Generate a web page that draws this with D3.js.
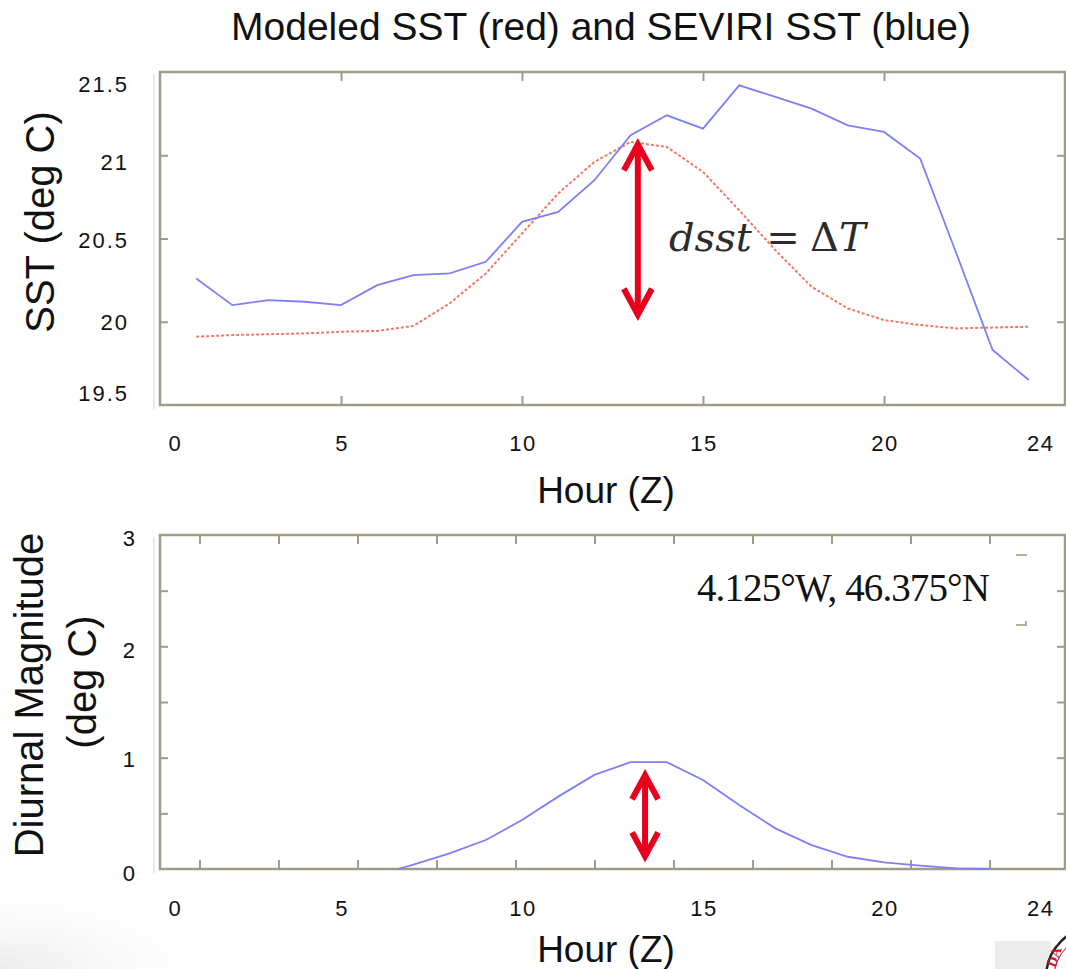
<!DOCTYPE html>
<html><head><meta charset="utf-8">
<script src="https://cdn.jsdelivr.net/npm/d3@7/dist/d3.min.js"></script>
<style>body{margin:0;background:#fff}svg{display:block}</style>
</head><body>
<svg id="c" width="1066" height="969"></svg>
<script>
// ---------- data ----------
const hours = [1,2,3,4,5,6,7,8,9,10,11,12,13,14,15,16,17,18,19,20,21,22,23,24];
const seviriSST = [20.26,20.10,20.13,20.12,20.10,20.22,20.28,20.29,20.36,20.60,20.66,20.85,21.12,21.24,21.16,21.42,21.35,21.28,21.18,21.14,20.98,20.41,19.83,19.65];
const modelSST  = [19.91,19.92,19.925,19.93,19.94,19.945,19.975,20.11,20.29,20.53,20.77,20.96,21.08,21.05,20.90,20.67,20.43,20.21,20.08,20.01,19.98,19.96,19.965,19.97];
const diurnalHours = [6.57,7,8,9,10,11,12,13,14,15,16,17,18,19,20,21,22,22.9];
const diurnalMag   = [0,0.04,0.14,0.26,0.44,0.65,0.845,0.96,0.96,0.80,0.575,0.365,0.215,0.11,0.06,0.03,0.006,0];
const xTickLabels = ["0","5","10","15","20","24"];
const xTickLabelAt = [0.4,5,10,15,20,24.3];
const topFrameXTicks = [5,10,15,20];
const topYTicks = [20,20.5,21];
const topYLabels = ["21.5","21","20.5","20","19.5"];
const topYLabelAt = [21.43,20.96,20.49,20.0,19.57];
const botYTicks = [0.5,1,1.5,2,2.5];
const botYLabels = ["3","2","1","0"];
const botYLabelAt = [2.97,1.97,0.99,-0.04];
const botFrameXTicks = [1,3,5,7,9,11,13,15,17,19,21];
const arrowTop = {hour:13.2, from:21.077, to:20.03};
const arrowBot = {hour:13.4, from:0.86, to:0.096};

// ---------- scales ----------
const svg = d3.select("#c");
const x = d3.scaleLinear().domain([0,25]).range([160,1065]);
const yTop = d3.scaleLinear().domain([19.5,21.5]).range([405,72]);
const yBot = d3.scaleLinear().domain([0,3]).range([869,535]);
const xBotFrame = d3.scaleLinear().domain([0,23]).range([160,1068.5]);

const frameCol = "#a19c87";
const sans = "'Liberation Sans', Arial, sans-serif";
const serif = "'Liberation Serif', 'Times New Roman', serif";

// slide shading bottom-left
const defs = svg.append("defs");
const rg = defs.append("radialGradient").attr("id","sh").attr("cx","0").attr("cy","1").attr("r","1");
rg.append("stop").attr("offset","0").attr("stop-color","#ececec");
rg.append("stop").attr("offset","1").attr("stop-color","#ffffff").attr("stop-opacity",0);
svg.append("rect").attr("x",0).attr("y",869).attr("width",260).attr("height",100).attr("fill","url(#sh)");

// title
svg.append("text").attr("x",601).attr("y",40).attr("text-anchor","middle")
  .attr("font-family",sans).attr("font-size",39).attr("fill","#111")
  .text("Modeled SST (red) and SEVIRI SST (blue)");

function frame(yScale, topTicks, yTicks, xtScale, len){
  const g = svg.append("g");
  const [y0,y1] = yScale.range();
  const [xa,xb] = x.range();
  g.append("line").attr("x1",xa-6).attr("x2",xa-6).attr("y1",y1+2).attr("y2",y0+4)
    .attr("stroke","#e6e3d8").attr("stroke-width",1.5);
  const ax1 = d3.axisBottom(xtScale).tickValues(topTicks).tickSize(len).tickFormat("");
  const ax2 = d3.axisTop(xtScale).tickValues(topTicks).tickSize(len).tickFormat("");
  const ay1 = d3.axisRight(yScale).tickValues(yTicks).tickSize(len-1).tickFormat("");
  const ay2 = d3.axisLeft(yScale).tickValues(yTicks).tickSize(len-1).tickFormat("");
  [[ax1,`translate(0,${y1})`],[ax2,`translate(0,${y0})`],[ay1,`translate(${xa},0)`],[ay2,`translate(${xb},0)`]].forEach(([a,t])=>{
    const s = g.append("g").attr("transform",t).call(a);
    s.select(".domain").remove();
    s.selectAll("line").attr("stroke",frameCol).attr("stroke-width",2);
  });
  g.append("rect").attr("x",xa).attr("y",y1).attr("width",xb-xa).attr("height",y0-y1)
    .attr("fill","none").attr("stroke",frameCol).attr("stroke-width",2.5);
}
frame(yTop, topFrameXTicks, topYTicks, x, 9);
frame(yBot, botFrameXTicks, botYTicks, xBotFrame, 9);

// tick labels
function xLabels(yPos){
  svg.append("g").selectAll("text").data(xTickLabels).join("text")
    .attr("x",(d,i)=>x(xTickLabelAt[i])+1).attr("y",yPos).attr("text-anchor","middle")
    .attr("font-family",sans).attr("font-size",22).attr("letter-spacing",1.5).attr("fill","#111")
    .text(d=>d);
}
xLabels(451); xLabels(916);
svg.append("g").selectAll("text").data(topYLabels).join("text")
  .attr("x",129).attr("y",(d,i)=>yTop(topYLabelAt[i])).attr("dy","0.36em").attr("text-anchor","end")
  .attr("font-family",sans).attr("font-size",22).attr("letter-spacing",2).attr("fill","#111").text(d=>d);
svg.append("g").selectAll("text").data(botYLabels).join("text")
  .attr("x",135).attr("y",(d,i)=>yBot(botYLabelAt[i])).attr("dy","0.36em").attr("text-anchor","end")
  .attr("font-family",sans).attr("font-size",22).attr("fill","#111").text(d=>d);

// axis titles
svg.append("text").attr("x",606).attr("y",503).attr("text-anchor","middle")
  .attr("font-family",sans).attr("font-size",37).attr("fill","#111").text("Hour (Z)");
svg.append("text").attr("x",606).attr("y",962).attr("text-anchor","middle")
  .attr("font-family",sans).attr("font-size",37).attr("fill","#111").text("Hour (Z)");
svg.append("text").attr("transform","translate(54,222) rotate(-90)").attr("text-anchor","middle")
  .attr("font-family",sans).attr("font-size",40).attr("fill","#111").text("SST (deg C)");
svg.append("text").attr("transform","translate(43,695) rotate(-90)").attr("text-anchor","middle")
  .attr("font-family",sans).attr("font-size",40).attr("fill","#111").text("Diurnal Magnitude");
svg.append("text").attr("transform","translate(96,682) rotate(-90)").attr("text-anchor","middle")
  .attr("font-family",sans).attr("font-size",40).attr("fill","#111").text("(deg C)");

// lines
const lineTop = (vals)=>d3.line().x((d,i)=>x(hours[i])).y(d=>yTop(d))(vals);
svg.append("path").attr("d",lineTop(modelSST)).attr("fill","none")
  .attr("stroke","#ef7a66").attr("stroke-width",2).attr("stroke-dasharray","3,2");
svg.append("path").attr("d",lineTop(seviriSST)).attr("fill","none")
  .attr("stroke","#7f7ff5").attr("stroke-width",1.8);
svg.append("path").attr("d",d3.line().x((d,i)=>x(diurnalHours[i])).y(d=>yBot(d))(diurnalMag))
  .attr("fill","none").attr("stroke","#7f7ff5").attr("stroke-width",1.8);

// arrows
function dblArrow(xp, yA, yB, hw, hl, w){
  const g = svg.append("g").attr("stroke","#e8001c").attr("stroke-width",w).attr("fill","none")
    .attr("stroke-linecap","butt").attr("stroke-linejoin","miter");
  g.append("line").attr("x1",xp).attr("x2",xp).attr("y1",yA+3).attr("y2",yB-3);
  g.append("polyline").attr("points",`${xp-hw},${yA+hl} ${xp},${yA+2} ${xp+hw},${yA+hl}`);
  g.append("polyline").attr("points",`${xp-hw},${yB-hl} ${xp},${yB-2} ${xp+hw},${yB-hl}`);
}
dblArrow(x(arrowTop.hour), yTop(arrowTop.from), yTop(arrowTop.to), 14, 28, 6);
dblArrow(x(arrowBot.hour), yBot(arrowBot.from), yBot(arrowBot.to), 13, 26, 6);

// annotations
const ann = svg.append("g").attr("font-family","'DejaVu Serif', serif").attr("fill","#2b2b2b").attr("font-size",40);
ann.append("text").attr("x",669).attr("y",251).attr("font-style","italic").text("dsst");
ann.append("text").attr("x",783).attr("y",251).attr("text-anchor","middle").text("=");
const dt = ann.append("text").attr("x",810).attr("y",251);
dt.append("tspan").text("Δ");
dt.append("tspan").attr("font-style","italic").text("T");
svg.append("text").attr("x",697).attr("y",601).attr("font-family",serif).attr("font-size",39)
  .attr("fill","#111").attr("textLength",293).text("4.125°W, 46.375°N");
// small bracket marks
svg.append("path").attr("d","M1016,555 H1027 M1016,625 H1026 V621").attr("stroke","#b5b09c").attr("stroke-width",2).attr("fill","none");

// bottom-right logo fragment
svg.append("rect").attr("x",995).attr("y",941).attr("width",56).attr("height",28).attr("fill","#ececec");
svg.append("circle").attr("cx",1098).attr("cy",978).attr("r",52).attr("fill","#fff").attr("stroke","#222").attr("stroke-width",2.5);
svg.append("circle").attr("cx",1098).attr("cy",978).attr("r",44).attr("fill","none").attr("stroke","#c8102e").attr("stroke-width",1);
svg.append("text").attr("x",1055).attr("y",968).attr("font-family",serif).attr("font-size",14).attr("font-weight","bold")
  .attr("fill","#c8102e").attr("transform","rotate(-70,1055,968)").text("DA");
</script>
</body></html>
